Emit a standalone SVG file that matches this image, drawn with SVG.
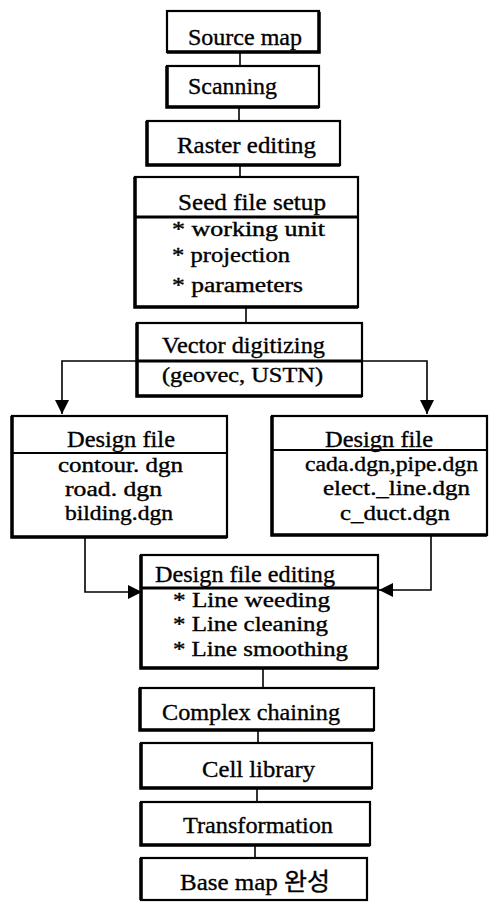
<svg xmlns="http://www.w3.org/2000/svg" width="492" height="902" viewBox="0 0 492 902">
<style>
.box{fill:#fff;stroke:#000;stroke-width:2.2}
.thk{stroke:#000;stroke-width:3.5;fill:none}
.div{stroke:#000;stroke-width:3;fill:none}
.divt{stroke:#000;stroke-width:2;fill:none}
.con{stroke:#000;stroke-width:1.6;fill:none}
text{font-family:"Liberation Serif","Times New Roman","Noto Sans CJK KR",serif;font-size:24px;fill:#000;stroke:#000;stroke-width:0.35}
.sm{font-size:20px}
</style>
<defs>
<marker id="arr" viewBox="0 0 10 10" refX="10" refY="5" markerWidth="14" markerHeight="14" markerUnits="userSpaceOnUse" orient="auto">
<path d="M0,0 L10,5 L0,10 Z" fill="#000"/>
</marker>
</defs>
<g id="connectors">
<line class="con" x1="240" y1="52" x2="240" y2="66"/>
<line class="con" x1="239" y1="107" x2="239" y2="121"/>
<line class="con" x1="240" y1="165" x2="240" y2="177"/>
<line class="con" x1="246" y1="307" x2="246" y2="323"/>
<polyline class="con" points="137,361 62,361 62,414" marker-end="url(#arr)"/>
<polyline class="con" points="362,361 427,361 427,414" marker-end="url(#arr)"/>
<polyline class="con" points="85,537 85,592 142,592" marker-end="url(#arr)"/>
<polyline class="con" points="431,535 431,590 379,590" marker-end="url(#arr)"/>
<line class="con" x1="263" y1="668" x2="263" y2="688"/>
<line class="con" x1="258" y1="730" x2="258" y2="743"/>
<line class="con" x1="257" y1="788" x2="257" y2="802"/>
<line class="con" x1="255" y1="845" x2="255" y2="858"/>
</g>
<g id="source">
<rect class="box" x="167" y="11" width="152" height="41"/>
<path class="thk" d="M319,12 V52 H167"/>
<text x="188" y="45" textLength="114" lengthAdjust="spacingAndGlyphs">Source map</text>
</g>
<g id="scanning">
<rect class="box" x="167" y="66" width="152" height="41"/>
<path class="thk" d="M167,66 V107 H319"/>
<text x="188" y="94" textLength="89" lengthAdjust="spacingAndGlyphs">Scanning</text>
</g>
<g id="raster">
<rect class="box" x="147" y="121" width="193" height="44"/>
<path class="thk" d="M147,121 V165 H340"/>
<text x="177" y="153" textLength="139" lengthAdjust="spacingAndGlyphs">Raster editing</text>
</g>
<g id="seed">
<rect class="box" x="135" y="177" width="223" height="130"/>
<path class="thk" d="M135,177 V307 H358"/>
<line class="div" x1="135" y1="217" x2="358" y2="217"/>
<text x="178" y="210" textLength="148" lengthAdjust="spacingAndGlyphs">Seed file setup</text>
<text class="sm" x="172" y="236" textLength="153" lengthAdjust="spacingAndGlyphs">* working unit</text>
<text class="sm" x="172" y="262" textLength="118" lengthAdjust="spacingAndGlyphs">* projection</text>
<text class="sm" x="172" y="292" textLength="131" lengthAdjust="spacingAndGlyphs">* parameters</text>
</g>
<g id="vector">
<rect class="box" x="137" y="323" width="225" height="73"/>
<path class="thk" d="M137,323 V396 H362"/>
<line class="div" x1="137" y1="361" x2="362" y2="361"/>
<text x="162" y="353" textLength="163" lengthAdjust="spacingAndGlyphs">Vector digitizing</text>
<text class="sm" x="162" y="382" textLength="161" lengthAdjust="spacingAndGlyphs">(geovec, USTN)</text>
</g>
<g id="design-left">
<rect class="box" x="12" y="416" width="215" height="121"/>
<path class="thk" d="M12,416 V537 H227"/>
<line class="divt" x1="12" y1="453" x2="227" y2="453"/>
<text x="67" y="447" textLength="108" lengthAdjust="spacingAndGlyphs">Design file</text>
<text class="sm" x="58" y="472" textLength="125" lengthAdjust="spacingAndGlyphs">contour. dgn</text>
<text class="sm" x="65" y="496" textLength="97" lengthAdjust="spacingAndGlyphs">road. dgn</text>
<text class="sm" x="65" y="520" textLength="108" lengthAdjust="spacingAndGlyphs">bilding.dgn</text>
</g>
<g id="design-right">
<rect class="box" x="272" y="416" width="215" height="119"/>
<path class="thk" d="M272,416 V535 H487"/>
<line class="divt" x1="272" y1="450" x2="487" y2="450"/>
<text x="325" y="447" textLength="108" lengthAdjust="spacingAndGlyphs">Design file</text>
<text class="sm" x="305" y="471" textLength="173" lengthAdjust="spacingAndGlyphs">cada.dgn,pipe.dgn</text>
<text class="sm" x="323" y="495" textLength="147" lengthAdjust="spacingAndGlyphs">elect._line.dgn</text>
<text class="sm" x="340" y="520" textLength="110" lengthAdjust="spacingAndGlyphs">c_duct.dgn</text>
</g>
<g id="editing">
<rect class="box" x="141" y="555" width="237" height="113"/>
<path class="thk" d="M141,555 V668 H378"/>
<line class="div" x1="141" y1="588" x2="378" y2="588"/>
<text x="155" y="582" textLength="180" lengthAdjust="spacingAndGlyphs">Design file editing</text>
<text class="sm" x="173" y="607" textLength="157" lengthAdjust="spacingAndGlyphs">* Line weeding</text>
<text class="sm" x="173" y="631" textLength="155" lengthAdjust="spacingAndGlyphs">* Line cleaning</text>
<text class="sm" x="173" y="656" textLength="175" lengthAdjust="spacingAndGlyphs">* Line smoothing</text>
</g>
<g id="complex">
<rect class="box" x="140" y="688" width="234" height="42"/>
<path class="thk" d="M140,688 V730 H374"/>
<text x="162" y="720" textLength="178" lengthAdjust="spacingAndGlyphs">Complex chaining</text>
</g>
<g id="cell">
<rect class="box" x="141" y="743" width="231" height="45"/>
<path class="thk" d="M141,743 V788 H372"/>
<text x="202" y="777" textLength="113" lengthAdjust="spacingAndGlyphs">Cell library</text>
</g>
<g id="transformation">
<rect class="box" x="141" y="802" width="229" height="43"/>
<path class="thk" d="M141,802 V845 H370"/>
<text x="183" y="833" textLength="150" lengthAdjust="spacingAndGlyphs">Transformation</text>
</g>
<g id="basemap">
<rect class="box" x="141" y="858" width="226" height="42"/>
<path class="thk" d="M141,858 V900"/>
<text x="180" y="890" textLength="150" lengthAdjust="spacingAndGlyphs">Base map 완성</text>
</g>
</svg>
